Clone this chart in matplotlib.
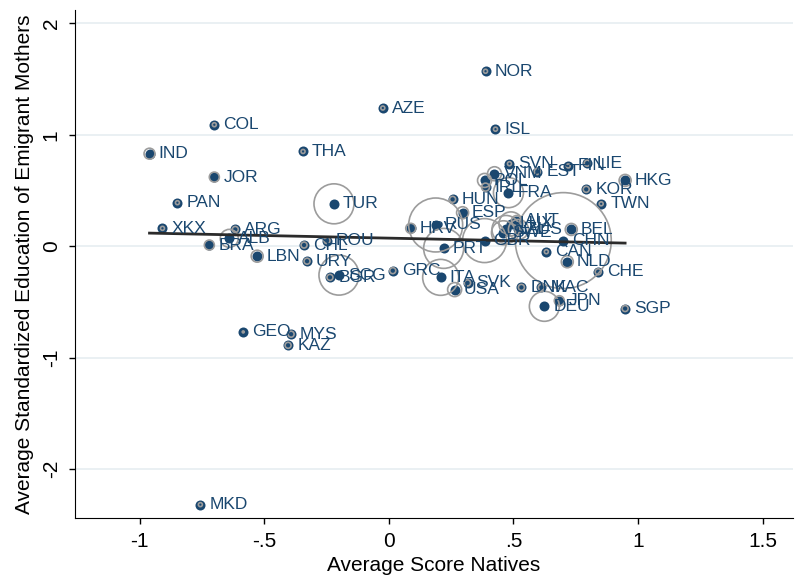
import matplotlib
matplotlib.use("Agg")
import matplotlib.pyplot as plt
import numpy as np

countries = ["NOR","AZE","ISL","COL","IND","THA","JOR","PAN","TUR","XKX","ARG","ALB","BRA","LBN",
             "CHL","ROU","URY","BGR","SCG","GRC","GEO","MYS","KAZ","MKD","SVN","VNM","EST","FIN",
             "LIE","POL","IRL","FRA","HUN","ESP","HRV","RUS","PRT","GBR","AUT","LUX","NZL","AUS",
             "SWE","BEL","CHN","CAN","NLD","CHE","KOR","TWN","HKG","SGP","ITA","SVK","USA","DNK",
             "MAC","JPN","DEU"]
score_natives = [0.388,-0.024,0.428,-0.70,-0.96,-0.344,-0.70,-0.848,-0.22,-0.908,-0.616,-0.64,-0.72,-0.528,
                 -0.34,-0.248,-0.328,-0.236,-0.20,0.016,-0.584,-0.392,-0.404,-0.756,0.484,0.424,0.596,0.72,
                 0.796,0.384,0.388,0.48,0.256,0.296,0.088,0.188,0.22,0.384,0.512,0.49,0.47,0.52,
                 0.46,0.732,0.70,0.632,0.716,0.84,0.792,0.852,0.948,0.948,0.208,0.316,0.264,0.532,
                 0.612,0.684,0.624]
educ_mothers = [1.57,1.24,1.05,1.09,0.83,0.85,0.62,0.39,0.38,0.16,0.15,0.07,0.01,-0.09,
                0.01,0.05,-0.135,-0.28,-0.26,-0.22,-0.77,-0.79,-0.89,-2.32,0.74,0.65,0.67,0.72,
                0.745,0.59,0.53,0.48,0.42,0.30,0.16,0.19,-0.02,0.05,0.23,0.20,0.15,0.15,
                0.12,0.15,0.05,-0.05,-0.14,-0.23,0.51,0.38,0.59,-0.56,-0.28,-0.33,-0.39,-0.37,
                -0.37,-0.49,-0.54]
weight = [4,4,4,4,30,4,25,4,400,4,9,81,25,36,
          9,9,9,9,400,9,1,9,9,4,4,49,9,4,
          9,49,16,225,9,36,25,729,400,484,25,144,196,100,
          144,36,2304,4,36,9,9,4,36,9,324,9,49,9,
          9,25,225]
fit_intercept = 0.072
fit_slope = -0.047

xticks = [-1, -0.5, 0, 0.5, 1, 1.5]
xticklabels = ["-1", "-.5", "0", ".5", "1", "1.5"]
yticks = [-2, -1, 0, 1, 2]
yticklabels = ["-2", "-1", "0", "1", "2"]

plt.rcParams['font.family'] = ['Liberation Sans', 'DejaVu Sans']
navy = "#1a476f"
gray = "#9c9c9c"

fig = plt.figure(figsize=(7.95, 5.76), dpi=100)
ax = fig.add_axes([0.094, 0.1007, 0.903, 0.882])

x = np.array(score_natives)
y = np.array(educ_mothers)
w = np.array(weight, dtype=float)

ax.scatter(x, y, s=52, color=navy, zorder=3, linewidths=0)
ax.scatter(x, y, s=2.07 * w, facecolors="none", edgecolors=gray, linewidths=1.2, zorder=4)

xs = np.array([x.min(), x.max()])
ax.plot(xs, fit_intercept + fit_slope * xs, color="#2b2b2b", lw=2.0, zorder=5)

for name, xi, yi in zip(countries, x, y):
    ax.annotate(name, (xi, yi), xytext=(6.5, 0), textcoords="offset points",
                ha="left", va="center", fontsize=12.5, color=navy, zorder=6)

ax.set_xlim(-1.26, 1.62)
ax.set_ylim(-2.44, 2.12)
ax.set_xticks(xticks)
ax.set_xticklabels(xticklabels, fontsize=15)
ax.set_yticks(yticks)
ax.set_yticklabels(yticklabels, fontsize=15, rotation=90, va="center")
ax.yaxis.grid(True, color="#e6edf1", lw=1.2, zorder=0)
ax.set_axisbelow(True)
ax.tick_params(direction="out", length=4, width=1, pad=6)
for s in ["top", "right"]:
    ax.spines[s].set_visible(False)
ax.set_xlabel("Average Score Natives", fontsize=15, labelpad=4)
ax.set_ylabel("Average Standardized Education of Emigrant Mothers", fontsize=15, labelpad=6)

fig.savefig("out.png", dpi=100)
